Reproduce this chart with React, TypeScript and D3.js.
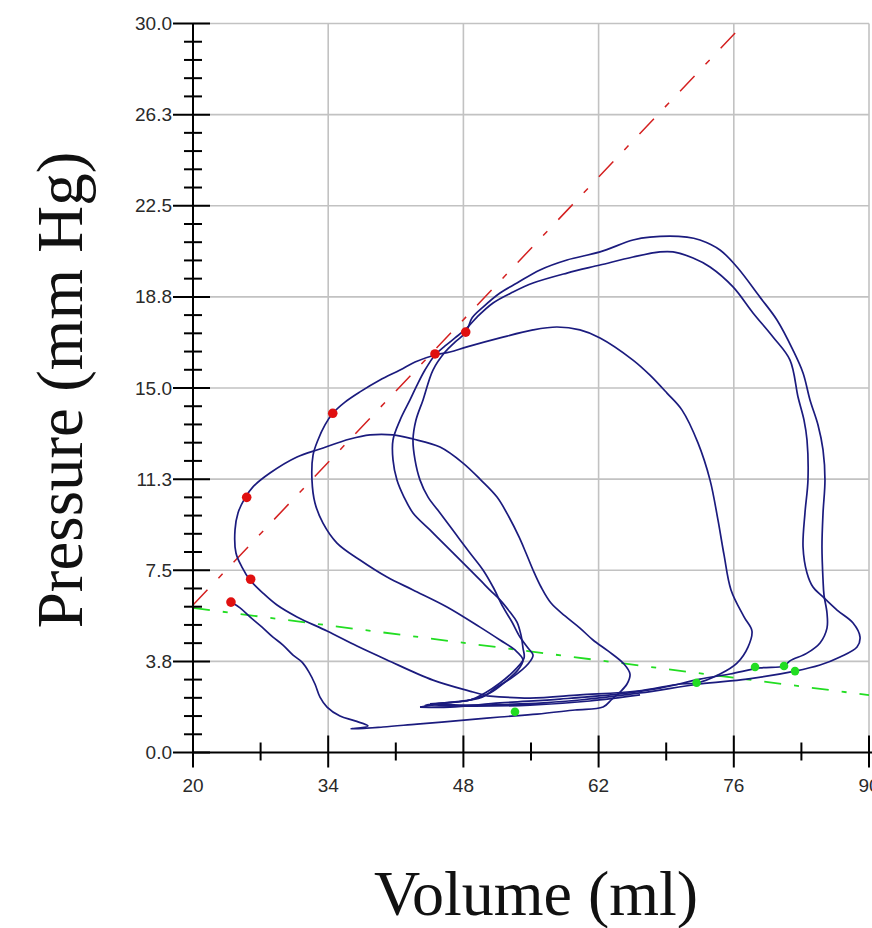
import React from 'react';
import * as d3 from 'd3';

// ---- axis structure ----
const xTicks = [20, 34, 48, 62, 76, 90];
const xMinorTicks = [27, 41, 55, 69, 83];
const yTicks = [0, 3.75, 7.5, 11.25, 15, 18.75, 22.5, 26.25, 30];
const yMinorStep = 0.75;

// ---- data: pressure-volume loops [volume ml, pressure mmHg] ----
const loop1: [number, number][] = [
  [23.93, 6.19], [24.87, 5.95], [25.9, 5.58], [27.15, 5.16], [28.28, 4.75], [29.32, 4.42],
  [30.36, 4.01], [31.29, 3.72], [32.01, 3.31], [32.63, 2.82], [33.15, 2.28], [33.88, 1.87],
  [35.22, 1.5], [36.78, 1.3], [38.12, 1.09], [36.36, 0.97], [39.67, 1.05], [43.2, 1.17],
  [48.37, 1.34], [51.79, 1.46], [55.62, 1.58], [59.56, 1.75], [62.46, 1.87], [63.39, 2.2],
  [64.22, 2.49], [64.94, 2.82], [65.25, 3.23], [64.63, 3.64], [62.97, 4.18], [61.42, 4.63],
  [60.07, 5.12], [58.52, 5.62], [57.07, 6.15], [56.04, 6.81], [55.21, 7.51], [54.48, 8.21],
  [53.76, 8.87], [52.72, 9.69], [51.48, 10.51], [49.82, 11.21], [47.96, 11.91], [45.58, 12.57],
  [42.78, 12.9], [40.71, 13.07], [38.33, 13.07], [36.26, 12.9], [33.15, 12.49], [30.77, 12.16],
  [27.97, 11.5], [26.21, 10.93], [25.38, 10.47], [24.66, 9.86], [24.35, 9.16], [24.45, 8.21],
  [25.07, 7.63], [25.9, 7.1], [27.25, 6.56], [28.7, 6.07], [30.77, 5.58], [33.88, 5.0],
  [36.98, 4.38], [40.09, 3.81], [44.85, 2.98], [48.99, 2.49], [50.44, 2.33],
];
const loop2: [number, number][] = [
  [50.44, 2.33], [54.9, 2.24], [60.07, 2.37], [65.98, 2.53], [70.43, 2.82], [72.19, 2.86],
  [74.57, 3.23], [76.33, 3.68], [77.47, 4.34], [77.88, 5.0], [77.06, 5.58], [75.71, 6.69],
  [74.99, 8.13], [74.36, 9.57], [73.54, 11.21], [72.29, 12.74], [70.64, 14.09], [69.08, 14.79],
  [67.32, 15.53], [65.56, 16.15], [62.15, 17.06], [60.07, 17.39], [57.69, 17.51], [55.21, 17.39],
  [51.79, 17.06], [48.37, 16.69], [46.61, 16.48], [45.06, 16.36], [42.99, 16.07], [41.44, 15.74],
  [39.36, 15.33], [37.29, 14.84], [35.74, 14.42], [34.5, 13.97], [33.67, 13.48], [32.94, 12.86],
  [32.43, 12.24], [32.32, 11.21], [32.63, 10.27], [33.46, 9.44], [34.91, 8.62], [37.29, 7.92],
  [40.09, 7.22], [42.78, 6.69], [46.3, 5.99], [49.72, 5.16], [51.79, 4.63], [53.34, 4.22],
  [54.17, 3.81], [53.65, 3.4], [52.31, 2.9], [50.75, 2.45], [48.68, 2.16], [45.58, 2.0],
  [43.51, 1.87],
];
const loop3: [number, number][] = [
  [43.51, 1.87], [46.61, 1.87], [51.79, 2.04], [58.0, 2.2], [64.22, 2.41], [68.36, 2.65],
  [72.5, 3.02], [75.61, 3.23], [78.71, 3.48], [81.2, 3.56], [81.82, 3.77], [83.58, 4.09],
  [84.93, 4.51], [85.65, 5.12], [85.65, 5.74], [85.34, 6.48], [85.24, 7.1], [85.13, 8.46],
  [85.24, 9.86], [85.44, 11.21], [85.24, 12.45], [84.72, 13.48], [83.89, 14.51], [83.17, 15.62],
  [82.13, 16.56], [80.47, 17.8], [78.71, 18.74], [76.33, 19.98], [74.57, 20.68], [72.5, 21.09],
  [71.15, 21.21], [67.32, 21.21], [65.56, 21.09], [62.15, 20.6], [58.73, 20.27], [55.93, 19.86],
  [53.55, 19.32], [51.79, 18.91], [50.03, 18.33], [48.89, 17.88], [48.27, 17.3], [47.13, 16.89],
  [46.1, 16.48], [44.85, 15.74], [43.82, 14.51], [43.09, 13.68], [42.78, 12.86], [42.99, 12.04],
  [43.51, 11.21], [44.34, 10.51], [45.58, 9.86], [47.13, 9.03], [48.68, 8.21], [50.03, 7.51],
  [51.07, 6.81], [52.1, 5.99], [53.03, 5.37], [53.86, 4.75], [54.69, 4.3], [55.21, 4.01],
  [54.69, 3.64], [53.14, 3.11], [51.48, 2.7], [49.93, 2.28], [47.13, 2.08], [44.54, 2.0],
];
const loop4: [number, number][] = [
  [44.54, 2.0], [47.65, 1.95], [53.86, 2.0], [60.07, 2.16], [66.29, 2.45], [72.5, 2.82],
  [77.37, 3.02], [82.34, 3.35], [84.93, 3.6], [87.0, 3.93], [88.76, 4.34], [89.07, 4.75],
  [88.35, 5.33], [86.69, 5.86], [85.24, 6.4], [84.2, 6.81], [83.58, 7.39], [83.17, 8.46],
  [83.37, 9.86], [83.68, 11.21], [83.58, 12.86], [83.27, 13.68], [82.65, 14.63], [81.82, 16.15],
  [80.06, 17.1], [77.99, 18.09], [75.92, 19.16], [73.54, 19.98], [71.78, 20.35], [69.71, 20.6],
  [68.36, 20.6], [65.56, 20.39], [62.15, 20.06], [58.73, 19.73], [55.21, 19.32], [53.14, 18.95],
  [51.07, 18.5], [49.41, 17.92], [48.37, 17.47], [47.13, 17.06], [46.1, 16.73], [45.06, 16.36],
  [44.02, 15.74], [43.2, 15.12], [42.47, 14.51], [41.44, 13.68], [40.71, 12.86], [40.71, 12.04],
  [41.12, 11.21], [41.85, 10.51], [42.78, 9.86], [44.54, 9.16], [46.3, 8.46], [48.17, 7.72],
  [49.72, 7.1], [50.96, 6.6], [51.79, 6.28], [52.82, 5.78], [53.55, 5.37], [53.96, 4.84],
  [54.17, 4.3], [54.28, 3.89], [53.34, 3.4], [51.79, 2.86], [50.24, 2.45], [48.68, 2.16],
  [46.1, 2.04], [44.02, 1.95], [48.68, 1.91], [54.9, 1.95], [61.11, 2.12], [66.29, 2.37],
];

// end-systolic points (red) and end-diastolic points (green)
const esPoints: [number, number][] = [
  [23.93, 6.19], [25.97, 7.13], [25.56, 10.5], [34.47, 13.96], [45.06, 16.4], [48.24, 17.3],
];
const edPoints: [number, number][] = [
  [53.34, 1.68], [72.15, 2.87], [78.2, 3.52], [81.2, 3.56], [82.34, 3.35],
];

// regression lines
const espvr: [number, number][] = [[20, 6.07], [76.6, 29.8]];
const edpvr: [number, number][] = [[20, 5.95], [90, 2.36]];

const W = 872;
const H = 928;

export default function App() {
  const x = d3.scaleLinear().domain([20, 90]).range([193, 869]);
  const y = d3.scaleLinear().domain([0, 30]).range([752.5, 23.5]);
  const fmt = d3.format('.1f');

  const yMinor = d3
    .range(1, 40)
    .filter((i) => i % 5 !== 0)
    .map((i) => i * yMinorStep);

  const loopLine = d3
    .line<[number, number]>()
    .x((d) => x(d[0]))
    .y((d) => y(d[1]))
    .curve(d3.curveCatmullRom.alpha(0.5));
  const straight = d3
    .line<[number, number]>()
    .x((d) => x(d[0]))
    .y((d) => y(d[1]));

  const loops = [loop1, loop2, loop3, loop4];
  const x0 = x(20);
  const y0 = y(0);

  return (
    <svg
      width={W}
      height={H}
      style={{ position: 'absolute', left: 0, top: 0, background: '#fff' }}
      xmlns="http://www.w3.org/2000/svg"
    >
      <rect x={0} y={0} width={W} height={H} fill="#fff" />
      {/* grid */}
      <g stroke="#c2c2c2" strokeWidth={1.6}>
        {xTicks.slice(1).map((t) => (
          <line key={'gx' + t} x1={x(t)} x2={x(t)} y1={y(30)} y2={y0} />
        ))}
        {yTicks.slice(1).map((t) => (
          <line key={'gy' + t} x1={x0} x2={x(90)} y1={y(t)} y2={y(t)} />
        ))}
      </g>

      {/* regression lines */}
      <path d={straight(edpvr) || ''} fill="none" stroke="#22dd22" strokeWidth={1.8} strokeDasharray="17,13,5,13" />
      <path d={straight(espvr) || ''} fill="none" stroke="#d42020" strokeWidth={1.5} strokeDasharray="21,16,6,16" />

      {/* loops */}
      {loops.map((lp, i) => (
        <path key={'lp' + i} d={loopLine(lp) || ''} fill="none" stroke="#1b1b7e" strokeWidth={1.7} strokeLinejoin="round" />
      ))}

      {/* points */}
      {edPoints.map((p, i) => (
        <circle key={'ed' + i} cx={x(p[0])} cy={y(p[1])} r={4.3} fill="#22dd22" />
      ))}
      {esPoints.map((p, i) => (
        <circle key={'es' + i} cx={x(p[0])} cy={y(p[1])} r={4.8} fill="#e01010" />
      ))}

      {/* axes */}
      <g stroke="#000" strokeWidth={2}>
        <line x1={x0} x2={x0} y1={y(30)} y2={y0} />
        <line x1={x0} x2={W} y1={y0} y2={y0} />
        {yTicks.map((t) => (
          <line key={'yt' + t} x1={x0 - 20} x2={x0 + 17} y1={y(t)} y2={y(t)} />
        ))}
        {yMinor.map((t) => (
          <line key={'ym' + t} x1={x0 - 9} x2={x0 + 9} y1={y(t)} y2={y(t)} />
        ))}
        {xTicks.map((t) => (
          <line key={'xt' + t} x1={x(t)} x2={x(t)} y1={y0 - 17} y2={y0 + 15} />
        ))}
        {xMinorTicks.map((t) => (
          <line key={'xm' + t} x1={x(t)} x2={x(t)} y1={y0 - 10} y2={y0 + 8} />
        ))}
      </g>

      {/* tick labels */}
      <g fontFamily="'Liberation Sans', Arial, sans-serif" fontSize={19} fill="#2a2a2a">
        {yTicks.map((t) => (
          <text key={'yl' + t} x={x0 - 21} y={y(t)} textAnchor="end" dominantBaseline="central">
            {fmt(t)}
          </text>
        ))}
        {xTicks.map((t) => (
          <text key={'xl' + t} x={x(t)} y={792} textAnchor="middle">
            {t}
          </text>
        ))}
      </g>

      {/* titles */}
      <text
        transform="translate(82,390) rotate(-90)"
        textAnchor="middle"
        fontFamily="'Liberation Serif', 'Times New Roman', serif"
        fontSize={65}
        fill="#111"
      >
        Pressure (mm Hg)
      </text>
      <text
        x={536}
        y={915}
        textAnchor="middle"
        fontFamily="'Liberation Serif', 'Times New Roman', serif"
        fontSize={64}
        fill="#111"
      >
        Volume (ml)
      </text>
    </svg>
  );
}
